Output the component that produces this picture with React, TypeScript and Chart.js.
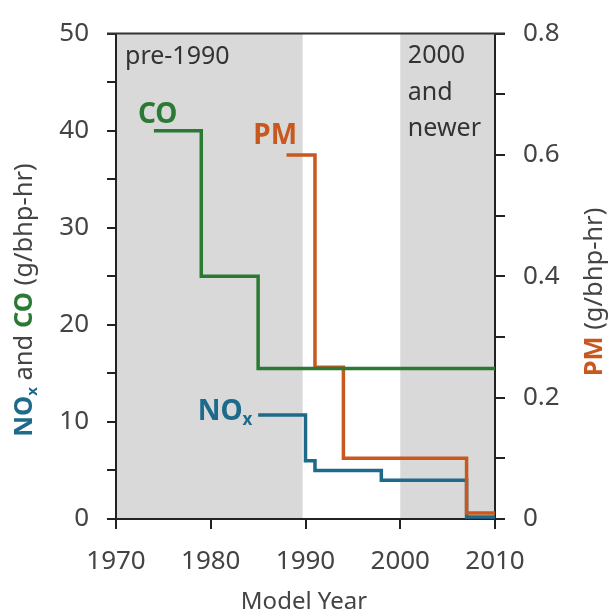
import React, { useEffect, useRef } from "react";
import { Chart, registerables } from "chart.js";

Chart.register(...registerables);

// ---- Data ----
const coYears = [1974, 1979, 1985, 2010];
const coValues = [40, 25, 15.5, 15.5];
const noxYears = [1985, 1990, 1991, 1998, 2007, 2010];
const noxValues = [10.7, 6.0, 5.0, 4.0, 0.2, 0.2];
const pmYears = [1988, 1991, 1994, 2007, 2010];
const pmValues = [0.6, 0.25, 0.1, 0.01, 0.01];
const shadeRanges = [
  [1970, 1989.7],
  [2000, 2010],
];
const xTickLabels = ["1970", "1980", "1990", "2000", "2010"];

const GREEN = "#2a7a34";
const ORANGE = "#c9581f";
const BLUE = "#1d6a8b";
const GRAY = "#444444";
const SHADE = "#d9d9d9";
const AXIS = "#222222";
const FONT = "'Noto Sans', sans-serif";

const toPts = (xs: number[], ys: number[]) => xs.map((x, i) => ({ x, y: ys[i] }));

type Seg = { text: string; color: string; bold?: boolean; sub?: boolean };

function drawSegs(
  ctx: CanvasRenderingContext2D,
  segs: Seg[],
  x: number,
  y: number,
  align: "left" | "center" | "right",
  fs: number
) {
  const fontFor = (s: Seg) => `${s.bold ? "bold " : ""}${s.sub ? Math.round(fs * 0.6) : fs}px ${FONT}`;
  let total = 0;
  const widths = segs.map((s) => {
    ctx.font = fontFor(s);
    const w = ctx.measureText(s.text).width;
    total += w;
    return w;
  });
  let cx = align === "left" ? x : align === "center" ? x - total / 2 : x - total;
  ctx.textAlign = "left";
  ctx.textBaseline = "middle";
  segs.forEach((s, i) => {
    ctx.font = fontFor(s);
    ctx.fillStyle = s.color;
    ctx.fillText(s.text, cx, s.sub ? y + fs * 0.3 : y);
    cx += widths[i];
  });
}

const customPlugin = {
  id: "custom",
  beforeDraw(chart: any) {
    const { ctx, chartArea, scales } = chart;
    ctx.save();
    ctx.fillStyle = SHADE;
    shadeRanges.forEach(([a, b]) => {
      const x1 = scales.x.getPixelForValue(a);
      const x2 = scales.x.getPixelForValue(b);
      ctx.fillRect(x1, chartArea.top, x2 - x1, chartArea.bottom - chartArea.top);
    });
    ctx.restore();
  },
  afterDraw(chart: any) {
    const { ctx, chartArea, scales } = chart;
    const x = scales.x;
    const y = scales.y;
    ctx.save();
    // top border
    ctx.strokeStyle = "#333333";
    ctx.lineWidth = 2;
    ctx.beginPath();
    ctx.moveTo(chartArea.left - 9, chartArea.top);
    ctx.lineTo(chartArea.right + 10, chartArea.top);
    ctx.stroke();

    // region labels
    const RF = 25;
    drawSegs(ctx, [{ text: "pre-1990", color: "#333333" }], x.getPixelForValue(1970.95), y.getPixelForValue(47.6), "left", RF);
    const nx = x.getPixelForValue(2000.8);
    drawSegs(ctx, [{ text: "2000", color: "#333333" }], nx, y.getPixelForValue(47.7), "left", RF);
    drawSegs(ctx, [{ text: "and", color: "#333333" }], nx, y.getPixelForValue(43.9), "left", RF);
    drawSegs(ctx, [{ text: "newer", color: "#333333" }], nx, y.getPixelForValue(40.2), "left", RF);

    // series labels
    const SF = 28;
    drawSegs(ctx, [{ text: "CO", color: GREEN, bold: true }], x.getPixelForValue(1974.4), y.getPixelForValue(41.6), "center", SF);
    drawSegs(ctx, [{ text: "PM", color: ORANGE, bold: true }], x.getPixelForValue(1986.8), y.getPixelForValue(39.5), "center", SF);
    drawSegs(
      ctx,
      [
        { text: "NO", color: BLUE, bold: true },
        { text: "x", color: BLUE, bold: true, sub: true },
      ],
      x.getPixelForValue(1984.4),
      y.getPixelForValue(11.0),
      "right",
      SF
    );

    // left axis title
    const TF = 25.5;
    ctx.save();
    ctx.translate(25, 300);
    ctx.rotate(-Math.PI / 2);
    drawSegs(
      ctx,
      [
        { text: "NO", color: BLUE, bold: true },
        { text: "x", color: BLUE, bold: true, sub: true },
        { text: " and ", color: GRAY },
        { text: "CO", color: GREEN, bold: true },
        { text: " (g/bhp-hr)", color: GRAY },
      ],
      0,
      0,
      "center",
      TF
    );
    ctx.restore();

    // right axis title
    ctx.save();
    ctx.translate(595, 292);
    ctx.rotate(-Math.PI / 2);
    drawSegs(
      ctx,
      [
        { text: "PM", color: ORANGE, bold: true },
        { text: " (g/bhp-hr)", color: GRAY },
      ],
      0,
      0,
      "center",
      TF
    );
    ctx.restore();

    // x axis title
    drawSegs(ctx, [{ text: "Model Year", color: GRAY }], 304, 602, "center", 24);
    ctx.restore();
  },
};

export default function App() {
  const ref = useRef<HTMLCanvasElement>(null);
  useEffect(() => {
    if (!ref.current) return;
    const tickFont = { family: FONT, size: 26 };
    const chart = new Chart(ref.current, {
      type: "line",
      data: {
        datasets: [
          {
            label: "CO",
            data: toPts(coYears, coValues),
            yAxisID: "y",
            borderColor: GREEN,
            borderWidth: 3.5,
            stepped: "before",
            pointRadius: 0,
            fill: false,
            clip: false as any,
          },
          {
            label: "PM",
            data: toPts(pmYears, pmValues),
            yAxisID: "y2",
            borderColor: ORANGE,
            borderWidth: 3.5,
            stepped: "before",
            pointRadius: 0,
            fill: false,
            clip: false as any,
          },
          {
            label: "NOx",
            data: toPts(noxYears, noxValues),
            yAxisID: "y",
            borderColor: BLUE,
            borderWidth: 3.5,
            stepped: "before",
            pointRadius: 0,
            fill: false,
            clip: false as any,
          },
        ],
      },
      options: {
        responsive: false,
        animation: false,
        layout: { padding: { top: 25, left: 0, right: 0, bottom: 0 } },
        plugins: { legend: { display: false }, tooltip: { enabled: false } },
        scales: {
          x: {
            type: "linear",
            min: 1970,
            max: 2010,
            ticks: {
              stepSize: 10,
              font: tickFont,
              color: GRAY,
              padding: 17,
              maxRotation: 0,
              callback: (v: any) => xTickLabels[Math.round((v - 1970) / 10)] ?? "",
            },
            grid: { drawOnChartArea: false, tickLength: 10, color: AXIS, lineWidth: 2 },
            border: { color: AXIS, width: 2 },
            afterFit: (s: any) => {
              s.height = 97;
            },
          },
          y: {
            position: "left",
            min: 0,
            max: 50,
            ticks: {
              stepSize: 5,
              font: tickFont,
              color: GRAY,
              padding: 18,
              callback: (v: any) => (Math.round(v) % 10 === 0 ? String(v) : ""),
            },
            grid: { drawOnChartArea: false, tickLength: 9, color: AXIS, lineWidth: 2 },
            border: { color: AXIS, width: 2 },
            afterFit: (s: any) => {
              s.width = 116;
            },
          },
          y2: {
            position: "right",
            min: 0,
            max: 0.8,
            ticks: {
              stepSize: 0.1,
              font: tickFont,
              color: GRAY,
              padding: 18,
              callback: (v: any) => {
                const n = Math.round(v * 10);
                if (n % 2 !== 0) return "";
                return n === 0 ? "0" : (n / 10).toFixed(1);
              },
            },
            grid: { drawOnChartArea: false, tickLength: 10, color: AXIS, lineWidth: 2 },
            border: { color: AXIS, width: 2 },
            afterFit: (s: any) => {
              s.width = 119;
            },
          },
        },
      } as any,
      plugins: [customPlugin],
    });
    return () => chart.destroy();
  }, []);
  return (
    <div style={{ position: "fixed", left: 0, top: 0, width: 614, height: 616, background: "#ffffff" }}>
      <canvas ref={ref} width={614} height={616} style={{ width: 614, height: 616, display: "block" }} />
    </div>
  );
}
